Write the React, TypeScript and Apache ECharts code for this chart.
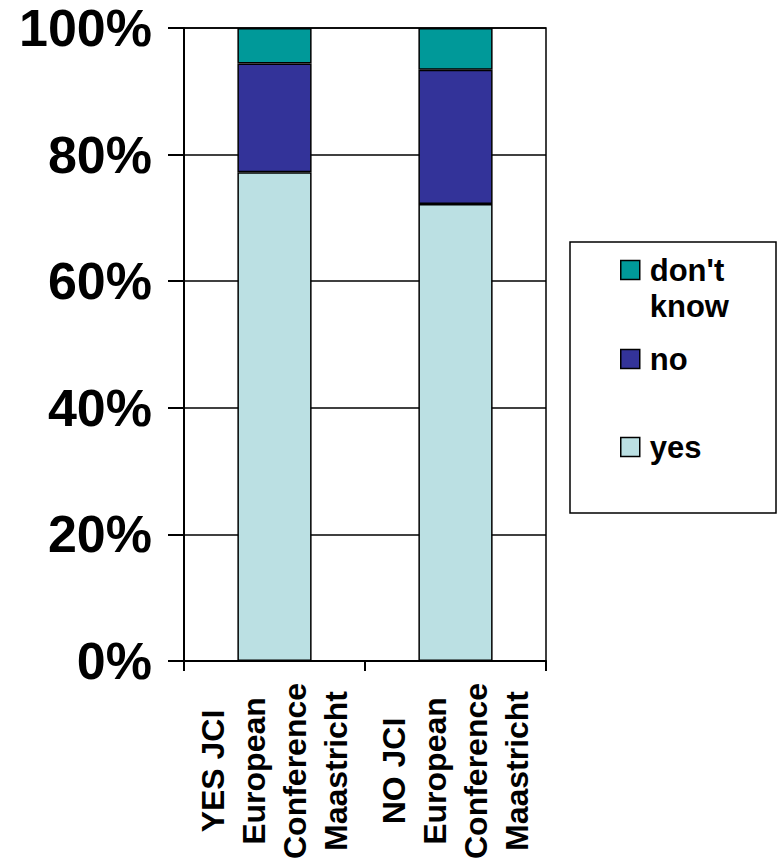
import React, { useEffect, useRef } from "react";
import * as echarts from "echarts";

const categories = [
  "YES JCI\nEuropean\nConference\nMaastricht",
  "NO JCI\nEuropean\nConference\nMaastricht",
];
const yesValues = [77.2, 72.2];
const noValues = [17.2, 21.2];
const dontKnowValues = [5.6, 6.6];
const yTicks = [0, 20, 40, 60, 80, 100];

const FONT = "'Liberation Sans', Arial, sans-serif";

export default function App() {
  const ref = useRef<HTMLDivElement>(null);
  useEffect(() => {
    if (!ref.current) return;
    const chart = echarts.init(ref.current, undefined, { renderer: "svg" });
    const legendText = {
      color: "#000",
      fontFamily: FONT,
      fontWeight: "bold" as const,
      fontSize: 31,
      lineHeight: 36,
      rich: {
        t: {
          color: "#000",
          fontFamily: FONT,
          fontWeight: "bold" as const,
          fontSize: 31,
          lineHeight: 36,
          padding: [0, 0, 0, 5],
        },
      },
    };
    const legendBase = {
      left: 620,
      padding: 0,
      icon: "rect",
      itemWidth: 19,
      itemHeight: 19,
      itemStyle: { borderColor: "#000", borderWidth: 1.5 },
      textStyle: legendText,
    };
    const itemStyleBase = { borderColor: "#000", borderWidth: 1.5 };
    chart.setOption({
      animation: false,
      backgroundColor: "#fff",
      grid: {
        left: 184,
        right: 232,
        top: 28,
        bottom: 202,
        show: true,
        borderColor: "#000",
        borderWidth: 1.5,
        outerBoundsMode: "none",
        containLabel: false,
      },
      xAxis: {
        type: "category",
        data: categories,
        axisLine: { show: true, lineStyle: { color: "#000", width: 2 } },
        axisTick: { show: true, length: 10, lineStyle: { color: "#000", width: 2 } },
        axisLabel: {
          interval: 0,
          rotate: 90,
          align: "center",
          verticalAlign: "middle",
          margin: 110,
          color: "#000",
          fontFamily: FONT,
          fontWeight: "bold",
          fontSize: 32,
          lineHeight: 41,
        },
      },
      yAxis: {
        type: "value",
        min: yTicks[0],
        max: yTicks[yTicks.length - 1],
        interval: 20,
        axisLine: { show: true, lineStyle: { color: "#000", width: 2 } },
        axisTick: { show: true, length: 16, lineStyle: { color: "#000", width: 2 } },
        splitLine: { show: true, lineStyle: { color: "#000", width: 1.5 } },
        axisLabel: {
          formatter: "{value}%",
          margin: 32,
          color: "#000",
          fontFamily: FONT,
          fontWeight: "bold",
          fontSize: 52,
        },
      },
      legend: [
        {
          ...legendBase,
          data: ["don't know"],
          top: 216,
          formatter: () => "{t| }\n{t|don't}\n{t|know}",
        },
        {
          ...legendBase,
          data: ["no"],
          top: 341,
          formatter: "{t|{name}}",
        },
        {
          ...legendBase,
          data: ["yes"],
          top: 429,
          formatter: "{t|{name}}",
        },
      ],
      graphic: [
        {
          type: "rect",
          shape: { x: 570, y: 242, width: 206, height: 271 },
          style: { fill: "none", stroke: "#000", lineWidth: 1.5 },
        },
      ],
      series: [
        {
          name: "yes",
          type: "bar",
          stack: "total",
          barWidth: "41%",
          data: yesValues,
          itemStyle: { ...itemStyleBase, color: "#BBE0E3" },
        },
        {
          name: "no",
          type: "bar",
          stack: "total",
          barWidth: "41%",
          data: noValues,
          itemStyle: { ...itemStyleBase, color: "#333399" },
        },
        {
          name: "don't know",
          type: "bar",
          stack: "total",
          barWidth: "41%",
          data: dontKnowValues,
          itemStyle: { ...itemStyleBase, color: "#009999" },
        },
      ],
    });
    return () => chart.dispose();
  }, []);
  return (
    <div
      ref={ref}
      style={{ position: "fixed", left: 0, top: 0, width: 778, height: 863, background: "#fff" }}
    />
  );
}
